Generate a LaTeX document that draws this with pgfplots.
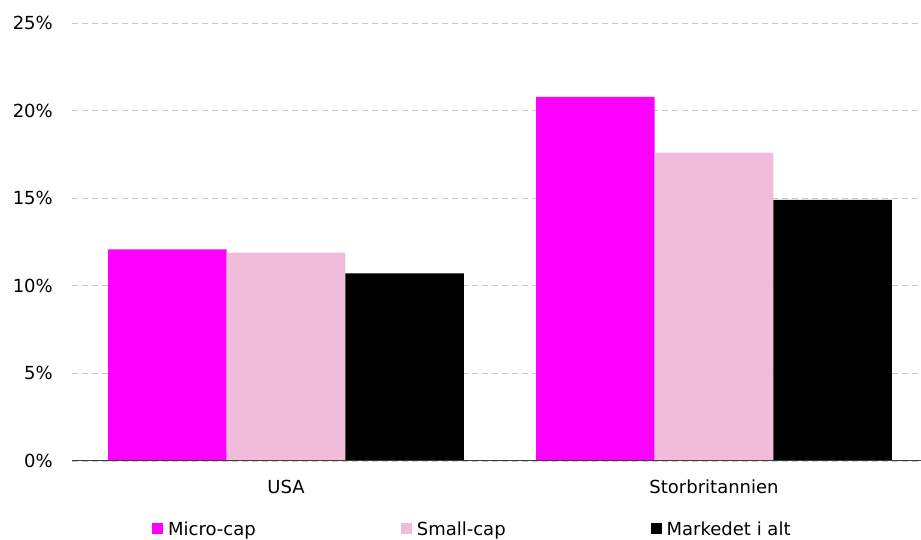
\documentclass[border=0pt]{standalone}
\usepackage{fontspec}
\setmainfont{DejaVu Sans}
\usepackage{pgfplots}
\pgfplotsset{compat=1.18}
\definecolor{micro}{HTML}{FF00FF}
\definecolor{small}{HTML}{F0BCDA}
\definecolor{gridc}{HTML}{C8C8C8}
\definecolor{axc}{HTML}{404040}
\begin{document}
\fontsize{18}{21}\selectfont
\begin{tikzpicture}
\begin{axis}[
  scale only axis,
  width=849pt, height=438pt,
  xmin=-0.5, xmax=1.4836,
  ymin=0, ymax=25,
  ytick={0,5,10,15,20,25},
  yticklabel={\pgfmathprintnumber{\tick}\%},
  /pgf/number format/assume math mode=true,
  xtick={0,1},
  xticklabels={USA,Storbritannien},
  major tick length=0pt,
  axis line style={draw=none},
  axis x line*=bottom,
  axis y line*=left,
  ymajorgrids,
  grid style={gridc, dash pattern=on 6pt off 4pt, line width=0.8pt},
  yticklabel style={xshift=-13pt, font=\fontsize{18}{21}\selectfont},
  xticklabel style={yshift=-13pt, font=\fontsize{18}{21}\selectfont},
  bar width=0.277,
  legend columns=3,
  legend style={at={(axis description cs:0,0)}, anchor=north west, xshift=80pt, yshift=-59pt,
    draw=none, fill=none, inner sep=0pt, font=\fontsize{18}{21}\selectfont,
    /tikz/every odd column/.append style={column sep=3pt},
    /tikz/every even column/.append style={column sep=143pt}},
  legend image code/.code={\fill[#1] (0pt,-4pt) rectangle (11pt,7pt);},
]
\addplot[ybar, fill=micro, draw=none, bar shift=-0.277] coordinates {(0,12.08) (1,20.79)};
\addplot[ybar, fill=small, draw=none, bar shift=0] coordinates {(0,11.89) (1,17.6)};
\addplot[ybar, fill=black, draw=none, bar shift=0.277] coordinates {(0,10.71) (1,14.9)};
\legend{Micro-cap,Small-cap,Markedet i alt}
\draw[axc, line width=1pt] (rel axis cs:0,0) -- (rel axis cs:1,0);
\end{axis}
\pgfresetboundingbox
\path (current axis.south west) ++(-72pt,-79pt) rectangle ++(921pt,540pt);
\end{tikzpicture}
\end{document}
